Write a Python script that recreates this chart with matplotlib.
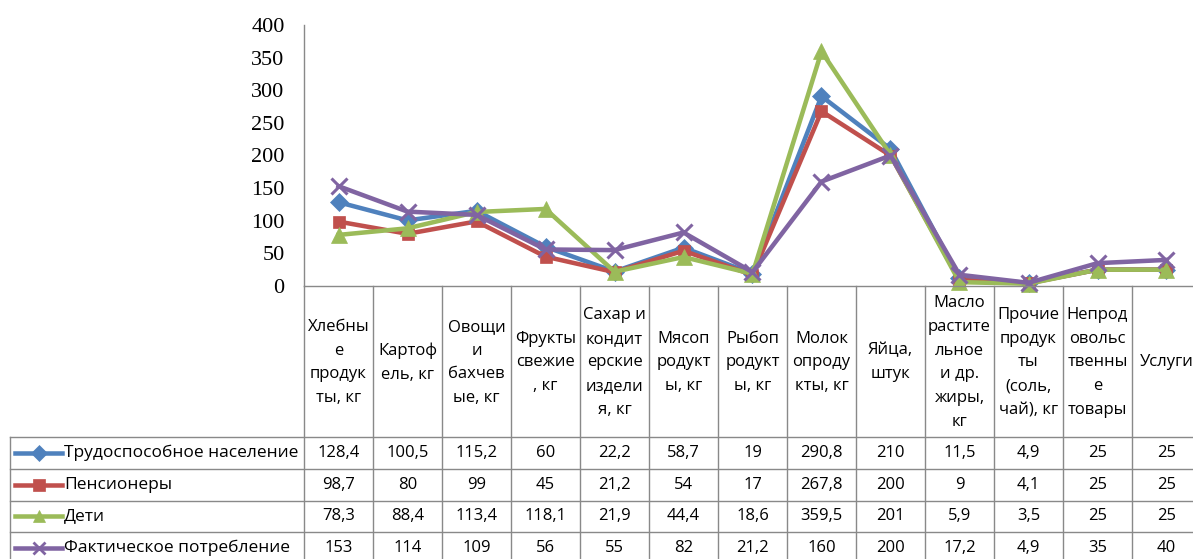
import matplotlib
matplotlib.use("Agg")
import matplotlib.pyplot as plt
import matplotlib.transforms as mtransforms

# ------------------------------------------------------------
# Data (values read from the data table of the chart)
# ------------------------------------------------------------
categories = [
    "Хлебны\nе\nпродук\nты, кг",
    "Картоф\nель, кг",
    "Овощи\nи\nбахчев\nые, кг",
    "Фрукты\nсвежие\n, кг",
    "Сахар и\nкондит\nерские\nиздели\nя, кг",
    "Мясоп\nродукт\nы, кг",
    "Рыбоп\nродукт\nы, кг",
    "Молок\nопроду\nкты, кг",
    "Яйца,\nштук",
    "Масло\nрастите\nльное\nи др.\nжиры,\nкг",
    "Прочие\nпродук\nты\n(соль,\nчай), кг",
    "Непрод\nовольс\nтвенны\nе\nтовары",
    "Услуги",
]

working = [128.4, 100.5, 115.2, 60, 22.2, 58.7, 19, 290.8, 210, 11.5, 4.9, 25, 25]
pensioners = [98.7, 80, 99, 45, 21.2, 54, 17, 267.8, 200, 9, 4.1, 25, 25]
children = [78.3, 88.4, 113.4, 118.1, 21.9, 44.4, 18.6, 359.5, 201, 5.9, 3.5, 25, 25]
actual = [153, 114, 109, 56, 55, 82, 21.2, 160, 200, 17.2, 4.9, 35, 40]

series_names = ["Трудоспособное население", "Пенсионеры", "Дети", "Фактическое потребление"]
series_values = [working, pensioners, children, actual]
colors = ["#4F81BD", "#C0504D", "#9BBB59", "#8064A2"]
markers = ["D", "s", "^", "x"]
msizes = [9, 9, 11, 12]

yticks = [0, 50, 100, 150, 200, 250, 300, 350, 400]

# ------------------------------------------------------------
# Layout (pixels of the 1193x559 picture)
# ------------------------------------------------------------
W, H = 1193, 559
grid_color = "#898989"
table_font = ["Open Sans", "DejaVu Sans"]

fig = plt.figure(figsize=(W / 100, H / 100), dpi=100)

plot_left, plot_right = 304, 1201
plot_top, plot_bottom = 25, 286
ax = fig.add_axes([plot_left / W, 1 - plot_bottom / H,
                   (plot_right - plot_left) / W, (plot_bottom - plot_top) / H])

n = len(categories)
x = list(range(n))
for name, vals, c, m, ms in zip(series_names, series_values, colors, markers, msizes):
    ax.plot(x, vals, color=c, lw=3.25, marker=m, markersize=ms,
            markeredgewidth=2.2 if m == "x" else 0.5, markeredgecolor=c,
            clip_on=False, solid_joinstyle="miter")

ax.set_xlim(-0.5, n - 0.5)
ax.set_ylim(0, 400)
ax.set_yticks(yticks)
ax.set_yticklabels([str(t) for t in yticks], fontfamily="Liberation Serif", fontsize=16)
ax.tick_params(axis="y", length=0, pad=14)
ax.set_xticks([])
for s in ["top", "right"]:
    ax.spines[s].set_visible(False)
for s in ["left", "bottom"]:
    ax.spines[s].set_color(grid_color)
    ax.spines[s].set_linewidth(1.0)

# transform: x in category units of the chart, y in pixels from the top
ypix = mtransforms.Affine2D().scale(1 / W, -1 / H).translate(0, 1) + fig.transFigure
tr = mtransforms.blended_transform_factory(ax.transData, ypix)
col_w = (plot_right - plot_left) / n
def px_to_col(px):
    return -0.5 + (px - plot_left) / col_w

table_left = px_to_col(10)
header_top, header_bottom = 286, 437
row_lines = [437, 469, 500.5, 532, 563]

# vertical cell borders
for i in range(n + 1):
    ax.plot([i - 0.5, i - 0.5], [header_top, row_lines[-1]], color=grid_color,
            lw=1.0, transform=tr, clip_on=False)
ax.plot([table_left, table_left], [header_bottom, row_lines[-1]], color=grid_color,
        lw=1.0, transform=tr, clip_on=False)
# horizontal cell borders
for y in row_lines:
    ax.plot([table_left, n - 0.5], [y, y], color=grid_color, lw=1.0,
            transform=tr, clip_on=False)

# header (category labels)
for i, cat in enumerate(categories):
    ax.text(i, (header_top + header_bottom) / 2 + 1, cat, transform=tr,
            ha="center", va="center", fontsize=12, family=table_font,
            linespacing=1.65, clip_on=False)

# data rows with legend keys
for r, (name, vals, c, m) in enumerate(zip(series_names, series_values, colors, markers)):
    yc = (row_lines[r] + row_lines[r + 1]) / 2
    ax.plot([px_to_col(15), px_to_col(62)], [yc, yc], color=c, lw=3.25,
            transform=tr, clip_on=False)
    ax.plot([px_to_col(39)], [yc], color=c, marker=m,
            markersize=8 if m != "x" else 9,
            markeredgewidth=2 if m == "x" else 0.5, markeredgecolor=c,
            transform=tr, clip_on=False)
    ax.text(px_to_col(64), yc, name, transform=tr, ha="left", va="center",
            fontsize=12.5, family=table_font, clip_on=False)
    for i, v in enumerate(vals):
        label = f"{v:g}".replace(".", ",")
        ax.text(i, yc, label, transform=tr, ha="center", va="center",
                fontsize=12, family=table_font, clip_on=False)

fig.savefig("out.png", dpi=100)
